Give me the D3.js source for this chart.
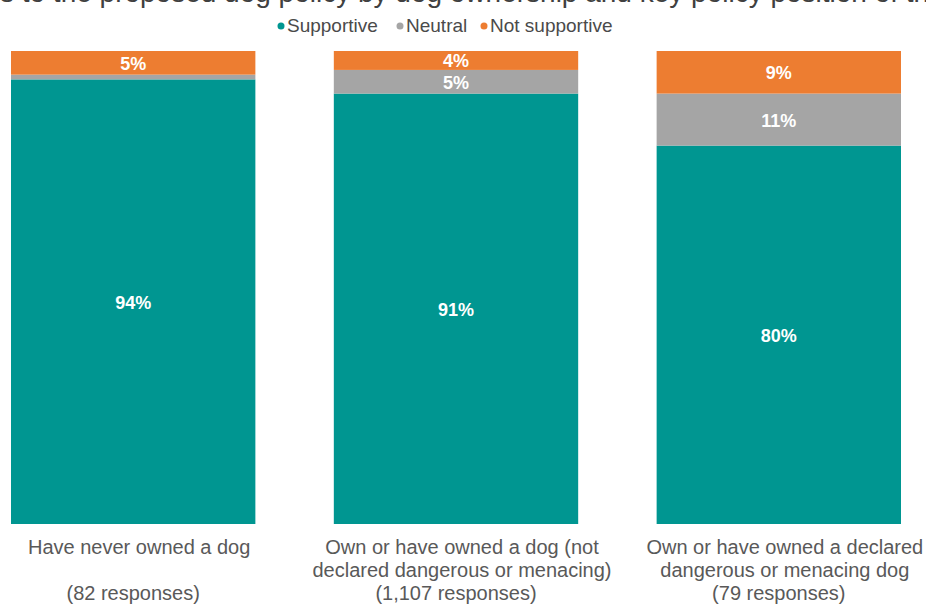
<!DOCTYPE html>
<html>
<head>
<meta charset="utf-8">
<script src="https://cdn.jsdelivr.net/npm/d3@7"></script>
<style>
  body { margin: 0; background: #fff; }
  svg { display: block; font-family: "Liberation Sans", Arial, sans-serif; }
</style>
</head>
<body>
<div id="chart"></div>
<script>
// data
const categories = ["never", "owned", "declared"];
const labelLines = [
  ["Have never owned a dog", ""],
  ["Own or have owned a dog (not", "declared dangerous or menacing)"],
  ["Own or have owned a declared", "dangerous or menacing dog"]
];
const responses = ["(82 responses)", "(1,107 responses)", "(79 responses)"];
const seriesNames = ["Supportive", "Neutral", "Not supportive"];
const supportive = [94, 91, 80];
const neutral = [1, 5, 11];
const notSupportive = [5, 4, 9];
const titleText = "Responses to the proposed dog policy by dog ownership and key policy position of the strategy";

const width = 926, height = 606;
const color = d3.scaleOrdinal().domain(seriesNames).range(["#009691", "#a5a5a5", "#ed7d31"]);

const svg = d3.select("#chart").append("svg")
  .attr("width", width)
  .attr("height", height);

// title runs off the top edge, only the bottom of it shows
svg.append("text")
  .attr("x", width / 2)
  .attr("y", 2)
  .attr("text-anchor", "middle")
  .style("font-size", "28px")
  .style("fill", "#404040")
  .text(titleText);

// legend
const legendX = [281, 400, 484];
const legend = svg.append("g");
seriesNames.forEach((s, i) => {
  legend.append("circle")
    .attr("cx", legendX[i]).attr("cy", 26).attr("r", 3.5)
    .style("fill", color(s));
  legend.append("text")
    .attr("x", legendX[i] + 6).attr("y", 32)
    .style("font-size", "19px")
    .style("fill", "#4a4a4a")
    .text(s);
});

// scales
const x = d3.scaleBand().domain(categories).range([11, 901]).paddingInner(0.243).paddingOuter(0);
const y = d3.scaleLinear().domain([0, 100]).range([524, 51]);

// build stacked rows
const rows = categories.map((c, i) => ({
  cat: c,
  "Supportive": supportive[i],
  "Neutral": neutral[i],
  "Not supportive": notSupportive[i]
}));
const stacked = d3.stack().keys(seriesNames)(rows);

const layers = svg.append("g").selectAll("g")
  .data(stacked)
  .enter().append("g")
  .style("fill", d => color(d.key));

layers.selectAll("rect")
  .data(d => d)
  .enter().append("rect")
  .attr("x", d => x(d.data.cat))
  .attr("y", d => y(d[1]))
  .attr("width", x.bandwidth())
  .attr("height", d => y(d[0]) - y(d[1]));

// value labels (skip tiny neutral slice)
layers.selectAll("text")
  .data(d => d.filter(v => v[1] - v[0] >= 3))
  .enter().append("text")
  .attr("x", d => x(d.data.cat) + x.bandwidth() / 2)
  .attr("y", d => (y(d[0]) + y(d[1])) / 2 + 7)
  .attr("text-anchor", "middle")
  .style("fill", "#fff")
  .style("font-weight", "bold")
  .style("font-size", "18px")
  .text(d => Math.round(d[1] - d[0]) + "%");

// category labels
const cats = svg.append("g").selectAll("text")
  .data(categories)
  .enter().append("text")
  .attr("text-anchor", "middle")
  .style("font-size", "20px")
  .style("fill", "#595959");

cats.each(function (c, i) {
  const t = d3.select(this);
  const cx = x(c) + x.bandwidth() / 2;
  labelLines[i].forEach((line, j) => {
    t.append("tspan").attr("x", cx + 6).attr("y", 554 + j * 23).text(line);
  });
  t.append("tspan").attr("x", cx).attr("y", 600).text(responses[i]);
});
</script>
</body>
</html>
